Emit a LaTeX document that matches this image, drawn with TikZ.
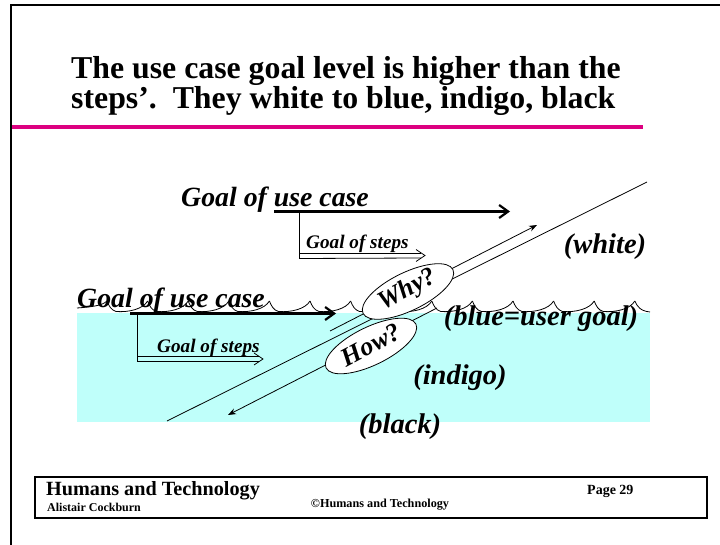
\documentclass[tikz,border=0pt]{standalone}
\usepackage{fontspec}
\setmainfont{Liberation Serif}
\usetikzlibrary{arrows.meta,shapes.geometric,calc}
\definecolor{water}{RGB}{191,255,250}
\definecolor{rulemag}{RGB}{220,0,128}
\begin{document}
\begin{tikzpicture}[x=1pt,y=-1pt,
  thinline/.style={line width=0.8pt},
  goalarrow/.style={line width=2.6pt,-{Straight Barb[length=9pt,width=13pt,line width=2.2pt]}},
  thinarrow/.style={line width=0.8pt,-{Stealth[length=8pt,width=6pt]}},
  title/.style={font=\fontsize{31.8}{31.8}\selectfont\bfseries,inner sep=0pt,anchor=base west},
  lbl/.style={font=\fontsize{28.5}{28.5}\selectfont\bfseries\itshape,inner sep=0pt},
  goallbl/.style={font=\fontsize{27.8}{27.8}\selectfont\bfseries\itshape,inner sep=0pt,anchor=base west},
  stepslbl/.style={font=\fontsize{19.2}{19.2}\selectfont\bfseries\itshape,inner sep=0pt,anchor=base west},
  bubble/.style={ellipse,draw,fill=white,line width=0.8pt,minimum width=100pt,minimum height=38pt,inner sep=0pt,rotate=26},
  bubbletext/.style={inner sep=0pt,rotate=28,font=\fontsize{26}{26}\selectfont\bfseries\itshape},
  foot/.style={inner sep=0pt}]
\useasboundingbox (0,0) rectangle (720,545);
% slide frame
\draw[line width=2pt] (720,5) -- (11,5) -- (11,545);
% title
\node[title] (t1) at (71,79) {The use case goal level is higher than the};
\node[title] (t2) at (71,109) {steps’.\ \ They white to blue, indigo, black};
\draw[rulemag,line width=4pt] (12,127) -- (643,127);
% water
\fill[water] (77,313) rectangle (650,422);
% waves
\draw[thinline] (77,308) .. controls (90,307) and (102,306) .. (107,301);
\foreach \k in {0,...,12}{
  \pgfmathsetmacro\c{107+40.6*\k}
  \draw[thinline] (\c,301) .. controls (\c+2,306) and (\c+4,310) .. (\c+9,311.5)
     .. controls (\c+22,312.5) and (\c+36,309) .. (\c+40.6,301);
}
\draw[thinline] (634.8,301) .. controls (637,306) and (640,311) .. (650,312);
% diagonal lines
\coordinate (L1) at (167,421);
\coordinate (L2) at (647,182);
\draw[thinline] (L1) -- (L2);
\coordinate (W1) at (330,331);
\coordinate (W2) at (537,225);
\draw[thinarrow] (W1) -- (W2);
\coordinate (H1) at (437,308);
\coordinate (H2) at (228,415);
\draw[thinarrow] (H1) -- (H2);
\node[bubble] (why) at (408,291.5) {};
\node[bubbletext] (whyt) at ([yshift=1pt]why.center) {Why?};
\node[bubble] (how) at (371,346) {};
\node[bubbletext] (howt) at ([yshift=1pt]how.center) {How?};
% upper goal
\node[goallbl] (g1) at (181,207) {Goal of use case};
\coordinate (a1s) at (274,211.5);
\coordinate (a1e) at (510,211.5);
\draw[goalarrow] (a1s) -- (a1e);
\coordinate (v1) at (299,211.5);
\coordinate (v1b) at (299,258.5);
\draw[thinline] (v1) -- (v1b);
\node[stepslbl] (s1) at (306,249) {Goal of steps};
\coordinate (d1a) at (299,253);
\coordinate (d1b) at (421,253);
\coordinate (d1c) at (421,258);
\coordinate (d1t) at (425,255.5);
\draw[thinline] (d1a) -- (d1b);
\draw[thinline] (v1b) -- (d1c);
\draw[thinline] ($(d1t)+(-9,-6)$) -- (d1t) -- ($(d1t)+(-9,6)$);
% lower goal
\node[goallbl] (g2) at (77,308) {Goal of use case};
\coordinate (a2s) at (130,313.5);
\coordinate (a2e) at (336,313.5);
\draw[goalarrow] (a2s) -- (a2e);
\coordinate (v2) at (137,313.5);
\coordinate (v2b) at (137,361.5);
\draw[thinline] (v2) -- (v2b);
\node[stepslbl] (s2) at (157,352) {Goal of steps};
\coordinate (d2a) at (137,356.5);
\coordinate (d2b) at (259,356.5);
\coordinate (d2c) at (259,361.5);
\coordinate (d2t) at (263,359);
\draw[thinline] (d2a) -- (d2b);
\draw[thinline] (v2b) -- (d2c);
\draw[thinline] ($(d2t)+(-9,-6)$) -- (d2t) -- ($(d2t)+(-9,6)$);
% level labels
\node[lbl,anchor=base] (white) at (605,254) {(white)};
\node[lbl,anchor=base] (blue) at (541,325) {(blue=user goal)};
\node[lbl,anchor=base] (indigo) at (460,384) {(indigo)};
\node[lbl,anchor=base] (black) at (400,433) {(black)};
% footer
\draw[line width=1.3pt] (35,477) rectangle (707,518);
\node[foot,anchor=base west,font=\fontsize{20.2}{20.2}\selectfont\bfseries] (f1) at (46,495) {Humans and Technology};
\node[foot,anchor=base west,font=\fontsize{12}{12}\selectfont\bfseries] (f2) at (47,511) {Alistair Cockburn};
\node[foot,anchor=base,font=\fontsize{12.2}{12.2}\selectfont\bfseries] (f3) at (380,507) {©Humans and Technology};
\node[foot,anchor=base west,font=\fontsize{14}{14}\selectfont\bfseries] (f4) at (587,494) {Page 29};
\end{tikzpicture}
\end{document}
